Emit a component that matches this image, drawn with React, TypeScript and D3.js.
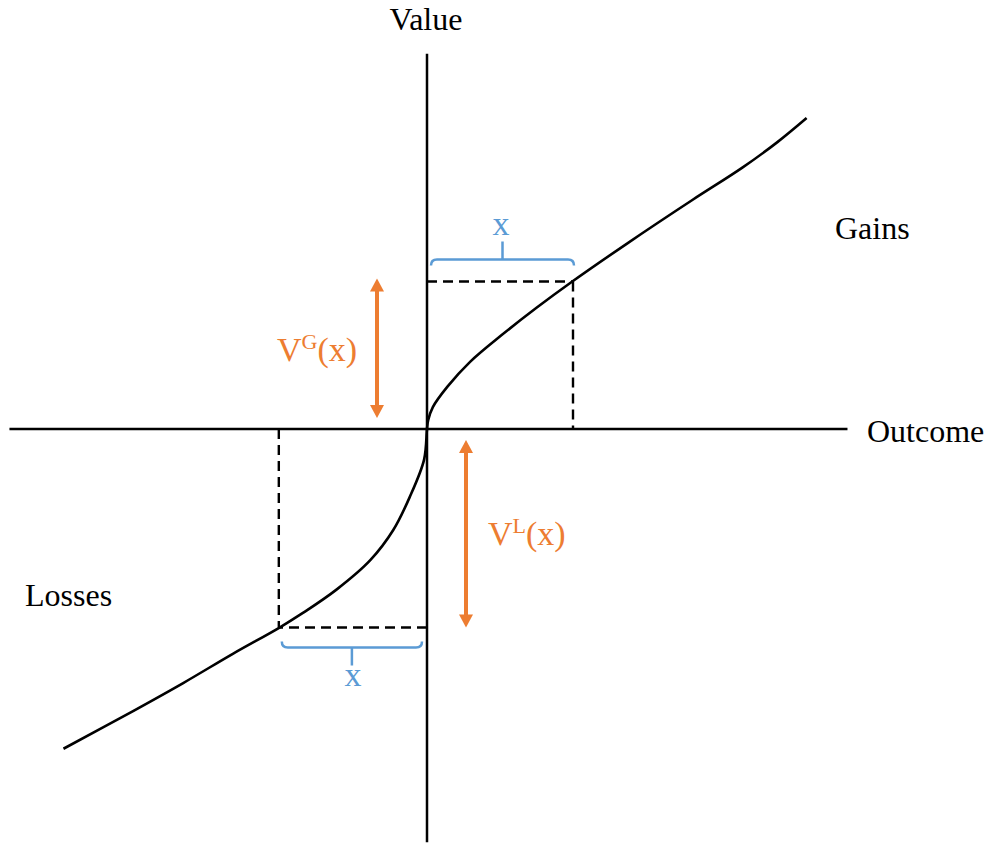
import React from "react";
import * as d3 from "d3";

// Value function samples (outcome, value) in abstract units
const lossOutcome = [-24.9, -20.1, -16.7, -13.3, -10.1, -8.5, -6.2, -3.9, -2.3, -1.2, -0.2, 0];
const lossValue = [-21.9, -19.3, -17.4, -15.4, -13.6, -12.6, -11.0, -9.0, -6.9, -4.7, -2.1, 0];
const gainOutcome = [0.08, 0.4, 1.4, 2.95, 5.2, 7.5, 9.95, 13.7, 18.2, 21.6, 24.0, 26.0];
const gainValue = [0.6, 1.5, 2.9, 4.6, 6.5, 8.3, 10.1, 12.7, 15.7, 17.9, 19.65, 21.3];

// example outcomes x for gain and loss, and their values
const exampleOutcomes = [10, -10.15];
const exampleValues = [10.1, -13.6];

const axisXExtent = [-28.6, 28.8];
const axisYExtent = [-28.3, 25.7];

const labels = { xAxis: "Outcome", yAxis: "Value", gains: "Gains", losses: "Losses", x: "x" };

const W = 994;
const H = 845;
const BLUE = "#5B9BD5";
const ORANGE = "#ED7D31";
const FONT = "Liberation Serif";

function Arrow({ x, y1, y2 }: { x: number; y1: number; y2: number }) {
  const hl = 13, hw = 7;
  return (
    <g fill={ORANGE} stroke="none">
      <line x1={x} x2={x} y1={y1 + hl - 1} y2={y2 - hl + 1} stroke={ORANGE} strokeWidth={4} />
      <path d={`M${x},${y1} L${x - hw},${y1 + hl} L${x + hw},${y1 + hl} Z`} />
      <path d={`M${x},${y2} L${x - hw},${y2 - hl} L${x + hw},${y2 - hl} Z`} />
    </g>
  );
}

function Brace({ x1, x2, y, dir }: { x1: number; x2: number; y: number; dir: number }) {
  const e = 6 * dir;
  const xm = (x1 + x2) / 2;
  const d = `M${x1},${y + e} Q${x1},${y} ${x1 + 6},${y} L${x2 - 6},${y} Q${x2},${y} ${x2},${y + e} M${xm},${y} L${xm},${y - 18 * dir}`;
  return <path d={d} fill="none" stroke={BLUE} strokeWidth={2.5} />;
}

export default function App() {
  const x = d3.scaleLinear().domain([0, 10]).range([427, 573]);
  const y = d3.scaleLinear().domain([0, 10]).range([429, 283]);

  const pts: [number, number][] = [
    ...lossOutcome.map((o, i) => [o, lossValue[i]] as [number, number]),
    ...gainOutcome.map((o, i) => [o, gainValue[i]] as [number, number]),
  ];
  const line = d3
    .line<[number, number]>()
    .x((d) => x(d[0]))
    .y((d) => y(d[1]))
    .curve(d3.curveCatmullRom.alpha(0.5));

  const gx = x(exampleOutcomes[0]);
  const gy = y(exampleValues[0]);
  const lx = x(exampleOutcomes[1]);
  const ly = y(exampleValues[1]);
  const x0 = x(0);
  const y0 = y(0);

  return (
    <svg width={W} height={H} style={{ position: "absolute", left: 0, top: 0, background: "#fff", fontFamily: FONT }}>
      <line x1={x(axisXExtent[0])} x2={x(axisXExtent[1])} y1={y0} y2={y0} stroke="#000" strokeWidth={2.5} />
      <line x1={x0} x2={x0} y1={y(axisYExtent[1])} y2={y(axisYExtent[0])} stroke="#000" strokeWidth={2.5} />

      <g stroke="#000" strokeWidth={2.4} strokeDasharray="10,6" fill="none">
        <line x1={x0} x2={gx} y1={gy} y2={gy} />
        <line x1={gx} x2={gx} y1={gy} y2={y0} />
        <line x1={x0} x2={lx} y1={ly} y2={ly} />
        <line x1={lx} x2={lx} y1={y0} y2={ly} />
      </g>

      <path d={line(pts) || ""} fill="none" stroke="#000" strokeWidth={2.6} />

      <Brace x1={x0 + 4} x2={gx + 1} y={gy - 22} dir={1} />
      <Brace x1={lx + 3} x2={x0 - 5} y={ly + 20} dir={-1} />
      <text x={(x0 + gx) / 2 + 1} y={235} fill={BLUE} fontSize={34} textAnchor="middle" fontFamily={FONT}>{labels.x}</text>
      <text x={(x0 + lx) / 2} y={686} fill={BLUE} fontSize={34} textAnchor="middle" fontFamily={FONT}>{labels.x}</text>

      <Arrow x={377} y1={gy - 3} y2={y0 - 11} />
      <Arrow x={466} y1={y0 + 11} y2={ly} />

      <text x={277} y={361} fill={ORANGE} fontSize={34} fontFamily={FONT}>
        V<tspan fontSize={22} dy={-12}>G</tspan><tspan dy={12}>(x)</tspan>
      </text>
      <text x={488} y={545} fill={ORANGE} fontSize={34} fontFamily={FONT}>
        V<tspan fontSize={22} dy={-12}>L</tspan><tspan dy={12}>(x)</tspan>
      </text>

      <text x={426} y={30} fontSize={32} textAnchor="middle" fontFamily={FONT}>{labels.yAxis}</text>
      <text x={867} y={442} fontSize={32} fontFamily={FONT}>{labels.xAxis}</text>
      <text x={835} y={239} fontSize={32} fontFamily={FONT}>{labels.gains}</text>
      <text x={25} y={606} fontSize={32} fontFamily={FONT}>{labels.losses}</text>
    </svg>
  );
}
